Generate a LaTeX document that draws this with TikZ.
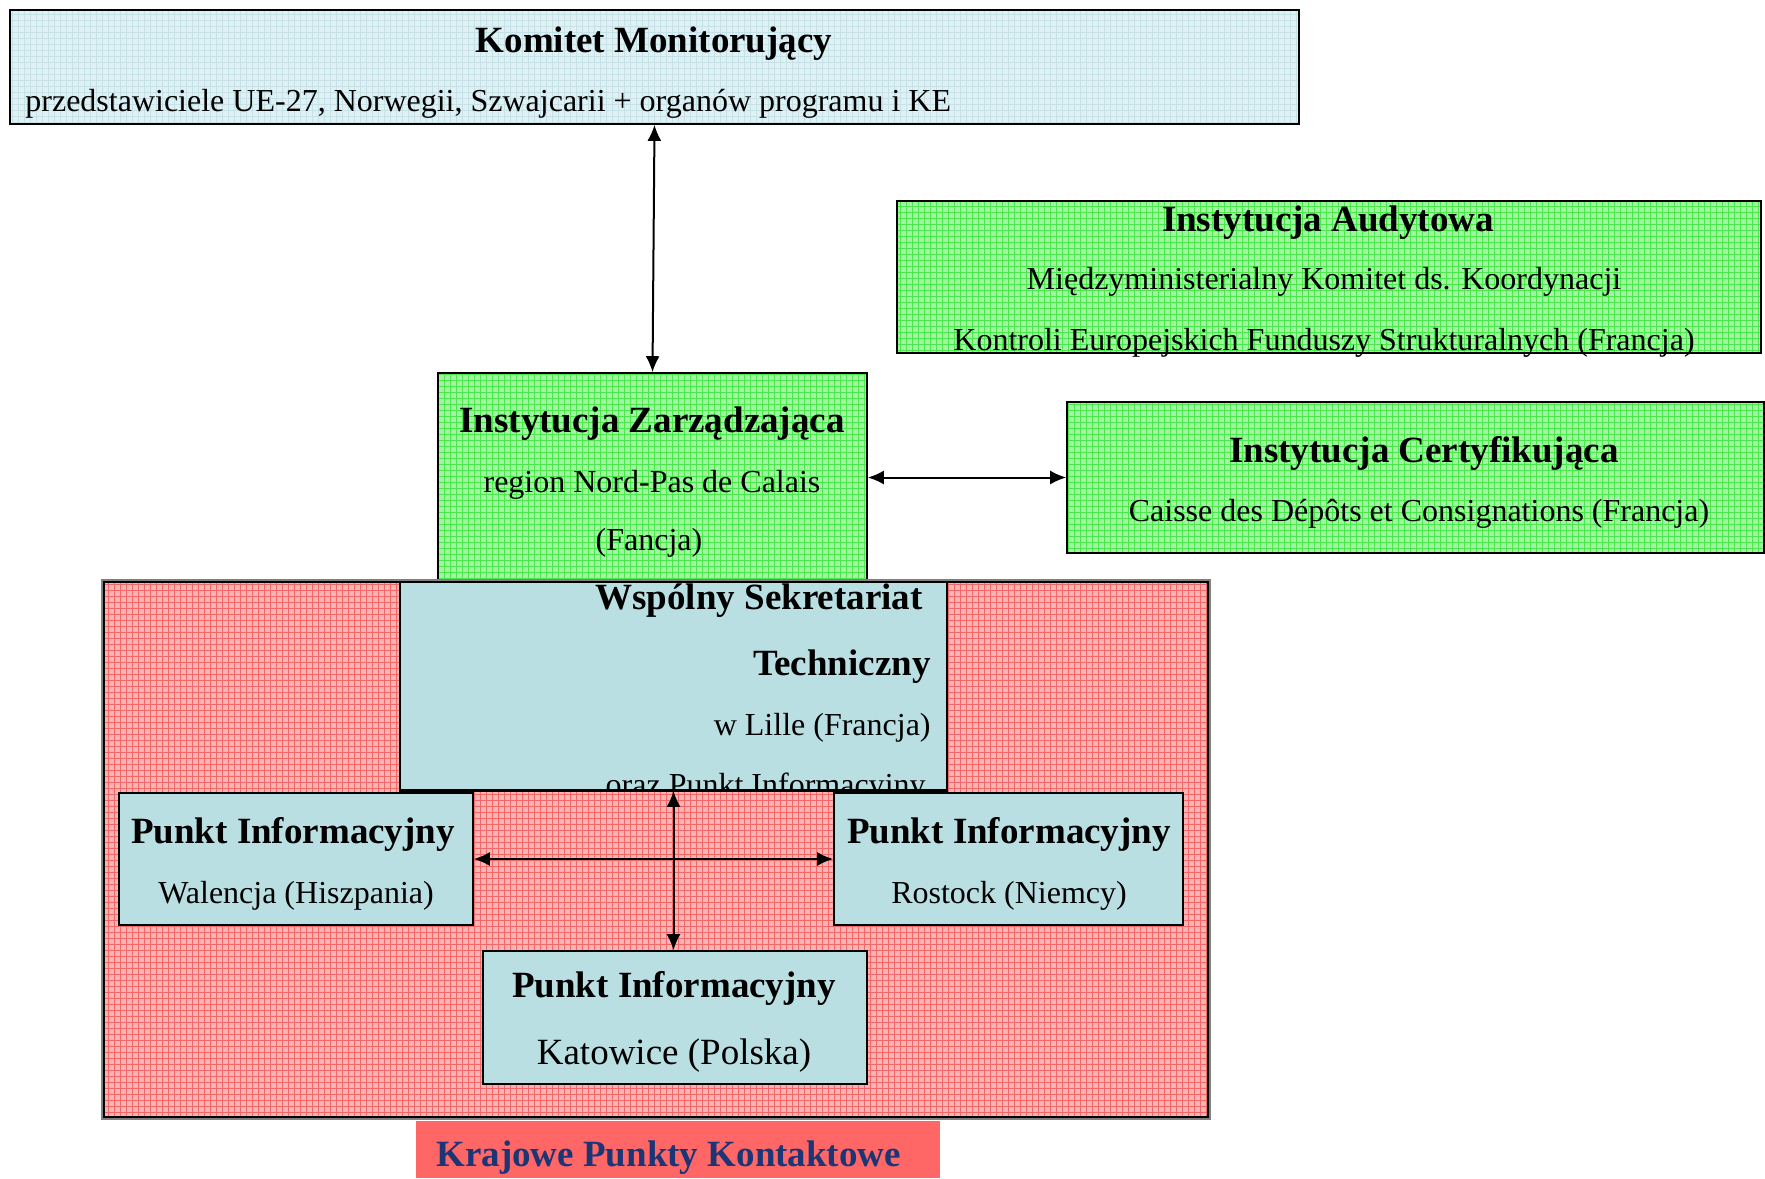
\documentclass[tikz,border=0pt]{standalone}
\usepackage{fontspec}
\setmainfont{Liberation Serif}
\usetikzlibrary{fit,arrows.meta,patterns}
\definecolor{kmfill}{HTML}{E0F0F3}
\definecolor{kmgrid}{HTML}{C4E2E8}
\definecolor{grfill}{HTML}{A4F2A4}
\definecolor{grgrid}{HTML}{4BE84B}
\definecolor{rdfill}{HTML}{F8B4B4}
\definecolor{rdgrid}{HTML}{F06868}
\definecolor{tlfill}{HTML}{BADFE3}
\definecolor{kpkfill}{HTML}{FF6666}
\definecolor{navy}{HTML}{1B3575}
\begin{document}
\begin{tikzpicture}[x=0.5pt,y=-0.5pt,
 box/.style={draw=black, line width=0.8pt, inner sep=0pt},
 patbox/.style 2 args={box, preaction={fill=#1}, preaction={pattern=grid, pattern color=#2}},
 kmbox/.style={patbox={kmfill}{kmgrid}},
 grbox/.style={patbox={grfill}{grgrid}},
 rdbox/.style={patbox={rdfill}{rdgrid}, line width=1pt},
 tlbox/.style={box, fill=tlfill},
 ttl/.style={font=\fontsize{18.5}{20}\selectfont\bfseries, anchor=base, inner sep=0pt},
 txt/.style={font=\fontsize{16}{18}\selectfont, anchor=base, inner sep=0pt},
 biarrow/.style={{Latex[length=8pt,width=7pt]}-{Latex[length=8pt,width=7pt]}, line width=1pt}]
\useasboundingbox (0,0) rectangle (1765,1178);

% boxes
\node[kmbox, fit={(10,10)(1299,124)}] (km) {};
\node[grbox, fit={(897,201)(1761,353)}] (ia) {};
\node[grbox, fit={(1067,402)(1764,553)}] (ic) {};
\node[grbox, fit={(438,373)(867,582)}] (iz) {};
\draw[gray, line width=0.7pt] (102,580) rectangle (1210,1119);
\node[rdbox, fit={(104,582)(1208,1117)}] (kpk) {};
\node[tlbox, fit={(400,582)(947,790)}] (wst) {};
\node[tlbox, fit={(119,793)(473,925)}] (pw) {};
\node[tlbox, fit={(834,793)(1183,925)}] (pr) {};
\node[tlbox, fit={(483,951)(867,1084)}] (pk) {};
\node[fill=kpkfill, inner sep=0pt, fit={(416,1121)(940,1178)}] (kpklab) {};

% texts
\node[ttl] (kmt) at (654,52) {Komitet Monitorujący};
\node[txt, anchor=base west] (kmb) at (25,111) {przedstawiciele UE-27, Norwegii, Szwajcarii + organów programu i KE};

\node[ttl] (iat) at (1328,231) {Instytucja Audytowa};
\node[txt] (iab1) at (1324,289) {Międzyministerialny Komitet ds. Koordynacji};
\node[txt] (iab2) at (1324,350) {Kontroli Europejskich Funduszy Strukturalnych (Francja)};

\node[ttl] (izt) at (652,432) {Instytucja Zarządzająca};
\node[txt] (izb1) at (652,492) {region Nord-Pas de Calais};
\node[txt] (izb2) at (649,550) {(Fancja)};

\node[ttl] (ict) at (1424,462) {Instytucja Certyfikująca};
\node[txt] (icb) at (1419,521) {Caisse des Dépôts et Consignations (Francja)};

\begin{scope}
\clip (400,582) rectangle (947,790);
\node[ttl, anchor=base east] (wst1) at (923,609) {Wspólny Sekretariat};
\node[ttl, anchor=base east] (wst2) at (931,675) {Techniczny};
\node[txt, anchor=base east] (wst3) at (931,735) {w Lille (Francja)};
\node[txt, anchor=base east] (wst4) at (926,795) {oraz Punkt Informacyjny};
\end{scope}
\draw[line width=0.8pt] (wst.south west) -- (wst.south east);

\node[ttl] (pwt) at (293,843) {Punkt Informacyjny};
\node[txt] (pwb) at (296,903) {Walencja (Hiszpania)};
\node[ttl] (prt) at (1009,843) {Punkt Informacyjny};
\node[txt] (prb) at (1009,903) {Rostock (Niemcy)};
\node[ttl] (pkt) at (674,997) {Punkt Informacyjny};
\node[txt, font=\fontsize{18.5}{20}\selectfont] (pkb) at (674,1064) {Katowice (Polska)};

\node[ttl, anchor=base west, text=navy] (kpkt) at (436,1166) {Krajowe Punkty Kontaktowe};

% connectors
\draw[biarrow] (km.south) -- (iz.north);
\draw[biarrow] (iz.east) -- (ic.west);
\draw[biarrow] (pw.east) -- (pr.west);
\draw[biarrow] (wst.south) -- (wst.south |- pk.north);
\end{tikzpicture}
\end{document}
